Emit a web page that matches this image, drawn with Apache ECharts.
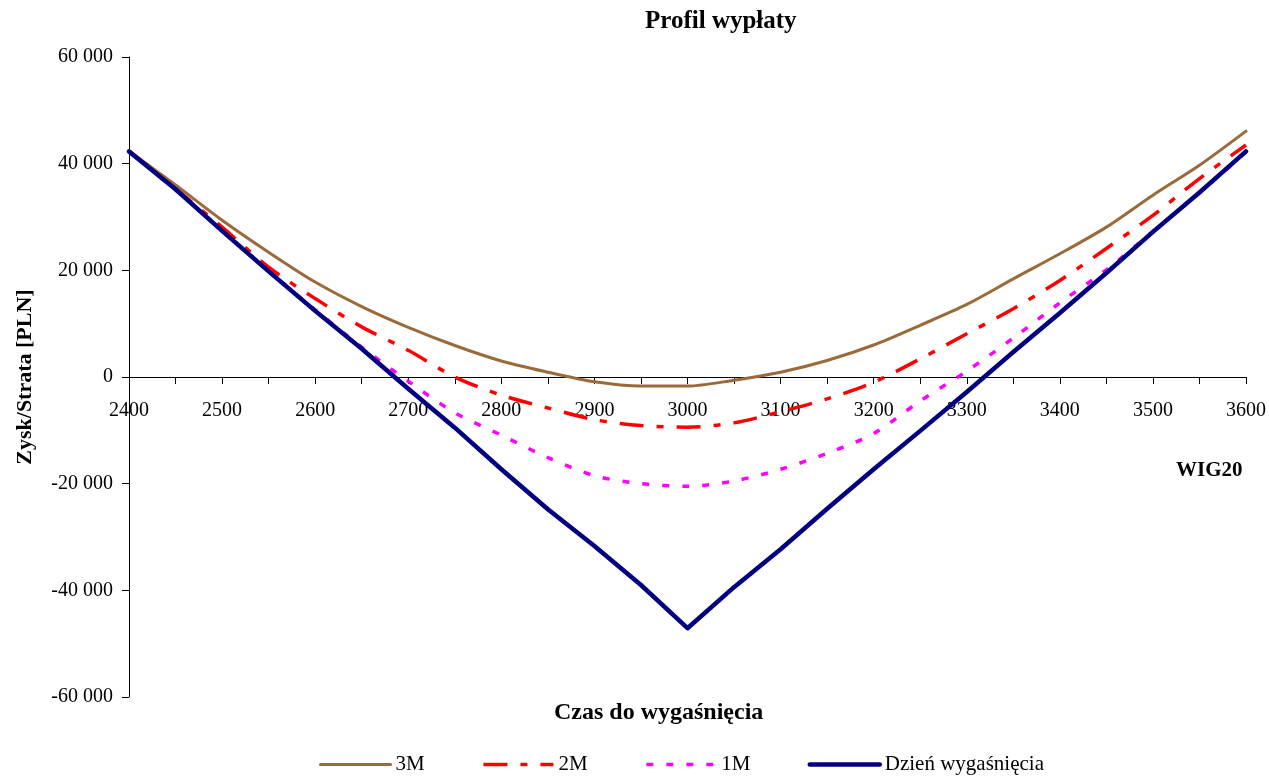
<!DOCTYPE html>
<html>
<head>
<meta charset="utf-8">
<script src="https://cdn.jsdelivr.net/npm/echarts@6/dist/echarts.min.js"></script>
<style>
html,body{margin:0;padding:0;background:#fff;}
#chart{width:1269px;height:777px;}
</style>
</head>
<body>
<div id="chart"></div>
<script>
// WIG20 level (x axis)
const wig = [2400, 2450, 2500, 2550, 2600, 2650, 2700, 2750, 2800, 2850, 2900, 2950, 3000,
             3050, 3100, 3150, 3200, 3250, 3300, 3350, 3400, 3450, 3500, 3550, 3600];
// Profit/loss in PLN
const m3 = [42400, 36000, 29400, 23400, 17800, 13200, 9300, 5900, 3000, 900, -900, -1700, -1700,
            -600, 900, 3100, 6000, 9700, 13600, 18400, 23100, 28100, 34100, 39700, 46100];
const m2 = [42400, 35300, 28100, 20600, 14700, 9400, 5000, 0, -3400, -5800, -8000, -9100, -9400,
            -8600, -6500, -4100, -1000, 3400, 8100, 12800, 18100, 24100, 30300, 37200, 43500];
const m1 = [42300, 35100, 27500, 19900, 12600, 5600, -800, -6700, -10900, -15100, -18500, -20000, -20500,
            -19500, -17300, -14300, -10600, -4500, 1100, 7300, 13900, 20100, 27300, 34500, 42200];
const expiry = [42300, 35200, 27400, 19800, 12400, 5300, -2200, -9500, -17300, -24800, -31700, -39000, -47100,
                -39400, -32300, -24700, -17300, -10100, -2800, 4700, 12000, 19500, 27200, 34600, 42300];
const seriesNames = ['3M', '2M', '1M', 'Dzień wygaśnięcia'];
const yTicks = { min: -60000, max: 60000, step: 20000 };
const xTicks = { min: 2400, max: 3600, step: 100 };

const FONT = "'Liberation Serif', 'Times New Roman', serif";
const pair = arr => wig.map((x, i) => [x, arr[i]]);
const fmtY = v => (v < 0 ? '-' : '') + String(Math.abs(v)).replace(/\B(?=(\d{3})+(?!\d))/g, ' ');

const styles = [
  { color: '#9B6A3A', width: 3, cap: 'round' },
  { color: '#FF0000', width: 3.5, type: [24, 13, 7, 13] },
  { color: '#FF00FF', width: 3.5, type: [7, 13] },
  { color: '#000080', width: 4.5, cap: 'round', join: 'round' }
];

const GRID_TOP = 57, GRID_H = 640;
const chart = echarts.init(document.getElementById('chart'), null, { renderer: 'canvas' });
chart.setOption({
  backgroundColor: '#ffffff',
  animation: false,
  title: [
    { text: 'Profil wypłaty', left: 645, top: 9, padding: 0,
      textStyle: { fontFamily: FONT, fontWeight: 'bold', fontSize: 25, color: '#000' } },
    { text: 'Czas do wygaśnięcia', left: 554, top: 701, padding: 0,
      textStyle: { fontFamily: FONT, fontWeight: 'bold', fontSize: 24, color: '#000' } },
    { text: 'WIG20', left: 1176, top: 460, padding: 0,
      textStyle: { fontFamily: FONT, fontWeight: 'bold', fontSize: 21, color: '#000' } }
  ],
  legend: {
    data: seriesNames.map((n, i) => ({ name: n, lineStyle: Object.assign({}, styles[i]) })),
    left: 319, top: 754, padding: 0,
    itemWidth: 70, itemHeight: 14, itemGap: 57,
    itemStyle: { opacity: 0 },
    textStyle: { fontFamily: FONT, fontSize: 21, color: '#000' }
  },
  grid: { left: 129, right: 22, top: GRID_TOP, height: GRID_H, containLabel: false },
  xAxis: {
    type: 'value', min: xTicks.min, max: xTicks.max, interval: xTicks.step,
    position: 'bottom', offset: -GRID_H / 2,
    axisLine: { onZero: false, lineStyle: { color: '#000', width: 1 } },
    axisTick: { show: true, length: 7, inside: false, lineStyle: { color: '#000' } },
    minorTick: { show: true, splitNumber: 2, length: 7, lineStyle: { color: '#000', width: 1 } },
    splitLine: { show: false },
    axisLabel: { fontFamily: FONT, fontSize: 20, color: '#000', margin: 24,
                 showMinLabel: true, showMaxLabel: true, formatter: v => String(v) }
  },
  yAxis: {
    type: 'value', min: yTicks.min, max: yTicks.max, interval: yTicks.step,
    name: 'Zysk/Strata [PLN]', nameLocation: 'middle', nameRotate: 90, nameGap: 93,
    nameTextStyle: { fontFamily: FONT, fontWeight: 'bold', fontSize: 22, color: '#000' },
    axisLine: { show: true, onZero: false, lineStyle: { color: '#000', width: 1 } },
    axisTick: { show: true, length: 7, inside: false, lineStyle: { color: '#000' } },
    splitLine: { show: false },
    axisLabel: { fontFamily: FONT, fontSize: 20, color: '#000', margin: 16, formatter: fmtY }
  },
  series: [
    { name: seriesNames[0], type: 'line', data: pair(m3), symbol: 'none', smooth: 0.3,
      lineStyle: styles[0], itemStyle: { color: styles[0].color } },
    { name: seriesNames[1], type: 'line', data: pair(m2), symbol: 'none', smooth: 0.3,
      lineStyle: styles[1], itemStyle: { color: styles[1].color } },
    { name: seriesNames[2], type: 'line', data: pair(m1), symbol: 'none', smooth: 0.3,
      lineStyle: styles[2], itemStyle: { color: styles[2].color } },
    { name: seriesNames[3], type: 'line', data: pair(expiry), symbol: 'none', smooth: false,
      lineStyle: styles[3], itemStyle: { color: styles[3].color } }
  ]
});
</script>
</body>
</html>
